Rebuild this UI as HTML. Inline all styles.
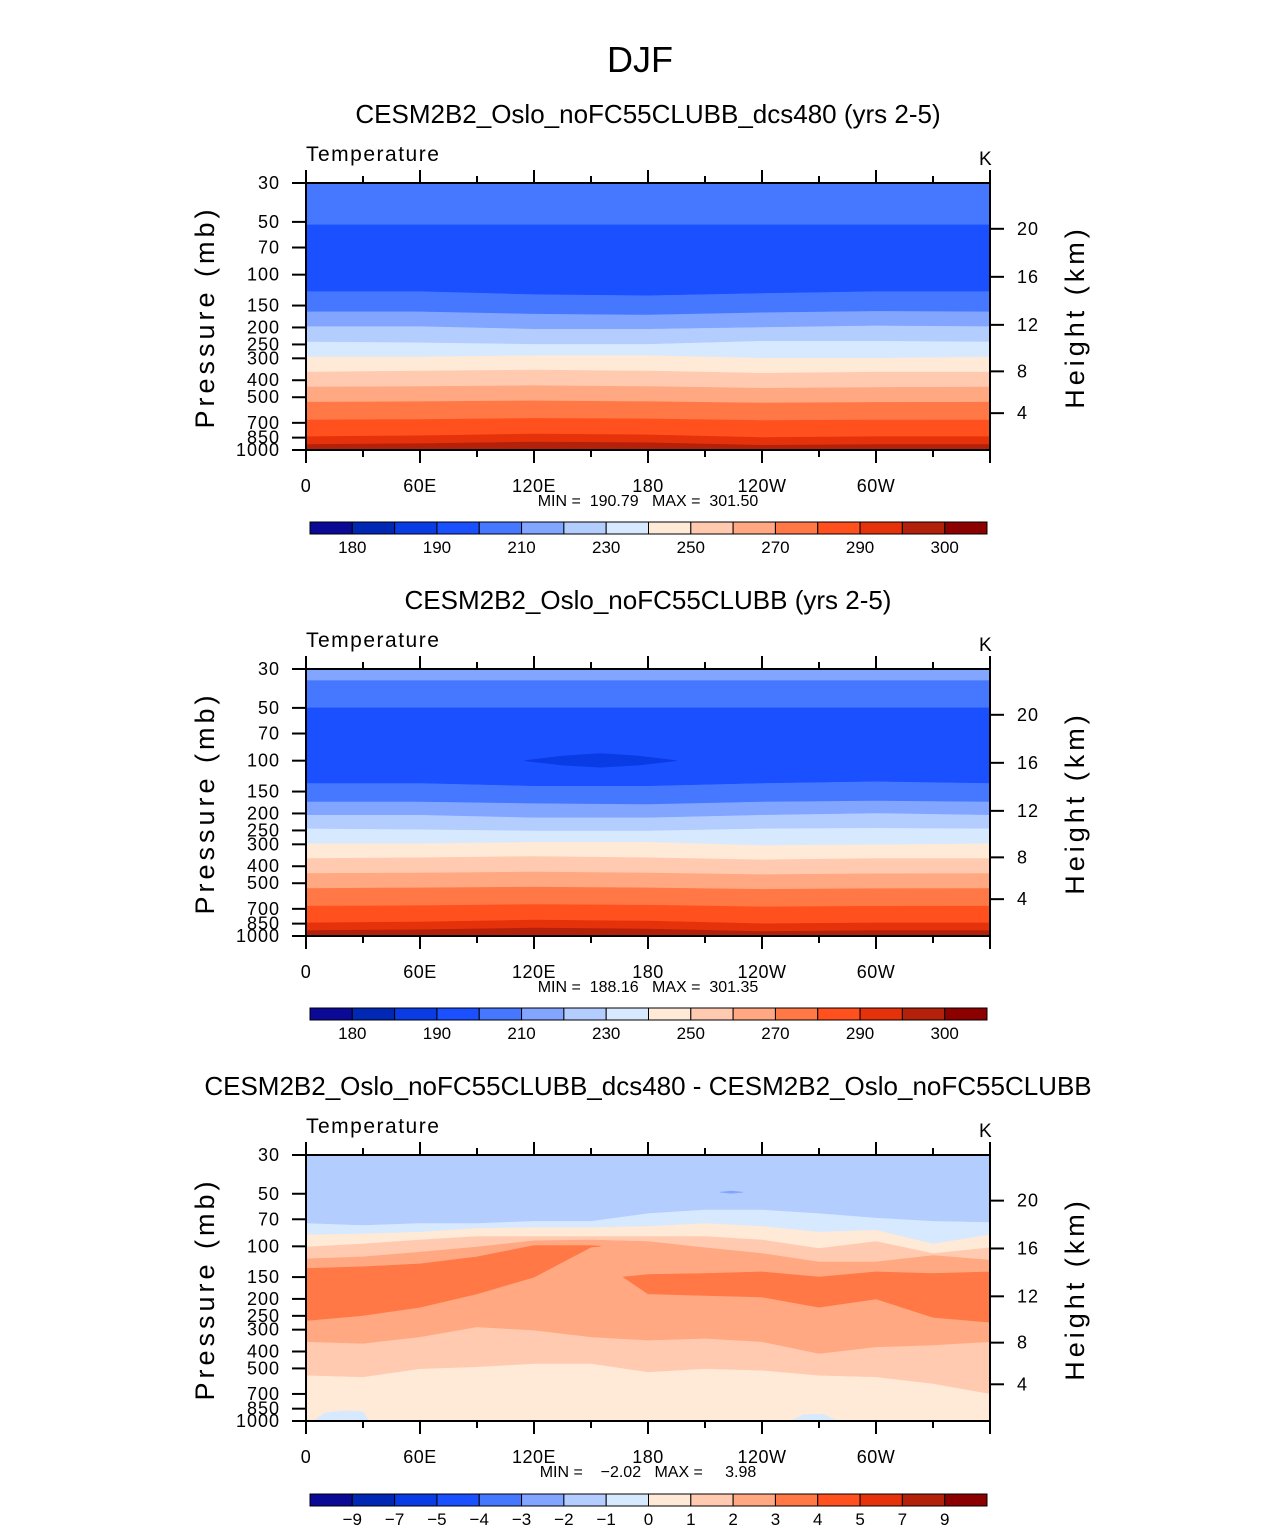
<!DOCTYPE html>
<html><head><meta charset="utf-8"><style>
body{margin:0;background:#fff}
svg text{font-family:"Liberation Sans",sans-serif;fill:#000}
</style></head><body>
<svg id="fig" width="1285" height="1531" xmlns="http://www.w3.org/2000/svg">
<text x="640" y="72" font-size="36" text-anchor="middle" font-weight="300">DJF</text>
</svg>
<script>
const COLORS=["#0a0a96","#0028b4","#0a3ce6","#1a50ff","#4678ff","#82a5ff","#b4cdff","#d7e9ff","#ffe9d7","#ffcab0","#ffa882","#ff7846","#ff501e","#e6320a","#b4210a","#8c0000"];
const presTicks=[30,50,70,100,150,200,250,300,400,500,700,850,1000];
const kmTicks=[4,8,12,16,20];
const lonTickLabels=["0","60E","120E","180","120W","60W"];
const lonTickValues=[0,60,120,180,240,300];
const cbLabelsT=["180","","190","","210","","230","","250","","270","","290","","300"];
const cbLabelsD=["−9","−7","−5","−4","−3","−2","−1","0","1","2","3","4","5","7","9"];
// panel 1 data
const p1Lons=[0,60,120,180,240,300,360];
const p1Colors=[4,3,4,5,6,7,8,9,10,11,12,13,14];
const p1B1=[52,52,52,52,52,52,52];
const p1B2=[125,125,130,132,128,125,125];
const p1B3=[163,163,168,170,165,162,163];
const p1B4=[198,198,205,205,200,196,198];
const p1B5=[242,245,250,250,240,240,242];
const p1B6=[295,295,290,290,300,300,295];
const p1B7=[360,355,350,355,365,360,360];
const p1B8=[438,435,430,435,445,440,438];
const p1B9=[534,530,525,530,540,535,534];
const p1B10=[674,670,660,665,680,675,674];
const p1B11=[840,830,810,820,850,840,840];
const p1B12=[930,920,900,910,940,930,930];
// panel 2 data
const p2Colors=[5,4,3,4,5,6,7,8,9,10,11,12,13,14];
const p2B0=[35,35,35,35,35,35,35];
const p2B1=[50,50,50,50,50,50,50];
const p2B2=[135,135,140,140,135,132,135];
const p2B3=[172,172,176,178,172,170,172];
const p2B4=[205,205,212,212,205,200,205];
const p2B5=[245,248,252,252,245,243,245];
const p2B6=[298,298,292,292,305,302,298];
const p2B7=[362,358,352,358,368,362,362];
const p2B8=[440,437,432,437,447,442,440];
const p2B9=[536,532,527,532,542,537,536];
const p2B10=[676,672,662,667,682,677,676];
const p2B11=[842,832,812,822,852,842,842];
const p2B12=[932,922,902,912,942,932,932];
const p2BlobLons=[115,135,155,175,195];
const p2BlobTop=[100,94,91,94,100];
const p2BlobBot=[100,106,109,106,100];
// panel 3 data
const p3Lons=[0,30,60,90,120,150,180,210,240,270,300,330,360];
const p3A=[74,76,74,74,72,72,65,62,62,65,69,72,73];
const p3B=[86,85,83,79,78,78,77,74,77,83,81,97,86];
const p3C=[101,97,92,88,88,88,88,88,92,103,94,110,102];
const p3D=[118,115,108,101,93,92,94,102,110,123,123,113,120];
const p3F=[354,362,332,291,304,332,347,339,354,414,379,370,354];
const p3G=[551,563,505,493,472,472,527,505,516,551,563,615,702];
const p3Colors=[6,7,8,9,10,9,8];
const p3LeftLons=[0,30,60,90,120,150,155];
const p3LeftTop=[134,131,126,115,99,99,100];
const p3LeftBot=[266,249,223,187,150,101,100];
const p3RightLons=[167,180,210,240,270,300,330,360];
const p3RightTop=[150,145,143,140,150,140,143,140];
const p3RightBot=[150,187,191,195,223,200,255,272];
const p3Small1Lons=[4,10,20,30,33];
const p3Small1Top=[1000,900,875,885,1000];
const p3Small2Lons=[255,262,272,280];
const p3Small2Top=[1000,920,915,1000];
const p3DotLons=[218,224,230];
const p3DotTop=[49,48.3,49];
const p3DotBot=[49,49.7,49];

const svg=document.getElementById('fig');
const NS="http://www.w3.org/2000/svg";
function mk(tag,attrs,parent){const e=document.createElementNS(NS,tag);for(const k in attrs)e.setAttribute(k,attrs[k]);(parent||svg).appendChild(e);return e;}
const X0=306,X1=990;
function xs(lon){return X0+(X1-X0)*lon/360;}
function ys(p,top,h){return top+h*Math.log(p/30)/Math.log(1000/30);}
function zToP(z){const m=z*1000;return m<11000?1013.25*Math.pow(1-2.2558e-5*m,5.256):226.32*Math.exp(-(m-11000)/6341.6);}
function region(lons,topP,botP,color,top,h,name){
  let d="";
  lons.forEach((l,i)=>{d+=(i?"L":"M")+xs(l).toFixed(1)+","+ys(Math.min(1000,Math.max(30,topP[i])),top,h).toFixed(1);});
  for(let i=lons.length-1;i>=0;i--)d+="L"+xs(lons[i]).toFixed(1)+","+ys(Math.min(1000,Math.max(30,botP[i])),top,h).toFixed(1);
  const e=mk('path',{d:d+"Z",fill:COLORS[color],stroke:COLORS[color],'stroke-width':0.6});
  
  
}
function stack(lons,bounds,colors,top,h,pfx){
  const full30=lons.map(()=>30),full1000=lons.map(()=>1000);
  const all=[full30,...bounds,full1000];
  for(let i=0;i<colors.length;i++)region(lons,all[i],all[i+1],colors[i],top,h,pfx+'-band-'+i);
}
function axes(top,h,title,minmax,cbY,cbLabels,pfx){
  const t=mk('text',{x:648,y:top-60,'font-size':26,'text-anchor':'middle'});t.textContent=title;
  
  const v=mk('text',{x:306,y:top-22,'font-size':21,'letter-spacing':'1.5'});v.textContent="Temperature";
  
  const u=mk('text',{x:979,y:top-18,'font-size':19});u.textContent="K";
  
  const fr=mk('rect',{x:X0,y:top,width:X1-X0,height:h,fill:'none',stroke:'#000','stroke-width':2});
  
  for(let l=0;l<=360;l+=30){const L=(l%60==0)?13:7;mk('line',{x1:xs(l),x2:xs(l),y1:top,y2:top-L,stroke:'#000','stroke-width':2});mk('line',{x1:xs(l),x2:xs(l),y1:top+h,y2:top+h+L,stroke:'#000','stroke-width':2});}
  lonTickValues.forEach((l,i)=>{const e=mk('text',{x:xs(l),y:top+h+42,'font-size':18,'text-anchor':'middle','letter-spacing':'0.5'});e.textContent=lonTickLabels[i];
    });
  presTicks.forEach(p=>{const y=ys(p,top,h);mk('line',{x1:X0,x2:X0-14,y1:y,y2:y,stroke:'#000','stroke-width':2});
    const e=mk('text',{x:280,y:y+6,'font-size':18,'text-anchor':'end','letter-spacing':'1'});e.textContent=p;
    });
  kmTicks.forEach(z=>{const y=ys(zToP(z),top,h);mk('line',{x1:X1,x2:X1+14,y1:y,y2:y,stroke:'#000','stroke-width':2});
    const e=mk('text',{x:1017,y:y+6,'font-size':18,'letter-spacing':'1'});e.textContent=z;
    });
  const yl=mk('text',{x:0,y:0,'font-size':27,'text-anchor':'middle','letter-spacing':'4',transform:`translate(214,${top+134}) rotate(-90)`});yl.textContent="Pressure (mb)";
  
  const yr=mk('text',{x:0,y:0,'font-size':27,'text-anchor':'middle','letter-spacing':'4',transform:`translate(1084,${top+134}) rotate(-90)`});yr.textContent="Height (km)";
  
  const mm=mk('text',{x:648,y:top+h+56,'font-size':16,'text-anchor':'middle',style:'white-space:pre'});mm.textContent=minmax;
  
  const cx0=310,cx1=987,bw=(cx1-cx0)/16;
  for(let i=0;i<16;i++){const r=mk('rect',{x:cx0+i*bw,y:cbY,width:bw,height:12,fill:COLORS[i],stroke:'#000','stroke-width':1});
    }
  cbLabels.forEach((s,i)=>{if(!s)return;const e=mk('text',{x:cx0+(i+1)*bw,y:cbY+31,'font-size':17,'text-anchor':'middle'});e.textContent=s;
    });
}
const T1=183,T2=669,T3=1155;
stack(p1Lons,[p1B1,p1B2,p1B3,p1B4,p1B5,p1B6,p1B7,p1B8,p1B9,p1B10,p1B11,p1B12],p1Colors,T1,267,'p1');
axes(T1,267,"CESM2B2_Oslo_noFC55CLUBB_dcs480 (yrs 2-5)","MIN =  190.79   MAX =  301.50",522,cbLabelsT,'p1');
stack(p1Lons,[p2B0,p2B1,p2B2,p2B3,p2B4,p2B5,p2B6,p2B7,p2B8,p2B9,p2B10,p2B11,p2B12],p2Colors,T2,267,'p2');
region(p2BlobLons,p2BlobTop,p2BlobBot,2,T2,267,'p2-min-blob');
axes(T2,267,"CESM2B2_Oslo_noFC55CLUBB (yrs 2-5)","MIN =  188.16   MAX =  301.35",1008,cbLabelsT,'p2');
stack(p3Lons,[p3A,p3B,p3C,p3D,p3F,p3G],p3Colors,T3,266,'p3');
region(p3LeftLons,p3LeftTop,p3LeftBot,11,T3,266,'p3-left-warm-blob');
region(p3RightLons,p3RightTop,p3RightBot,11,T3,266,'p3-right-warm-blob');
region(p3Small1Lons,p3Small1Top,p3Small1Lons.map(()=>1000),7,T3,266,'p3-cool-blob-1');
region(p3Small2Lons,p3Small2Top,p3Small2Lons.map(()=>1000),7,T3,266,'p3-cool-blob-2');
region(p3DotLons,p3DotTop,p3DotBot,5,T3,266,'p3-cool-dot');
axes(T3,266,"CESM2B2_Oslo_noFC55CLUBB_dcs480 - CESM2B2_Oslo_noFC55CLUBB","MIN =    −2.02   MAX =     3.98",1494,cbLabelsD,'p3');
</script>
</body></html>
